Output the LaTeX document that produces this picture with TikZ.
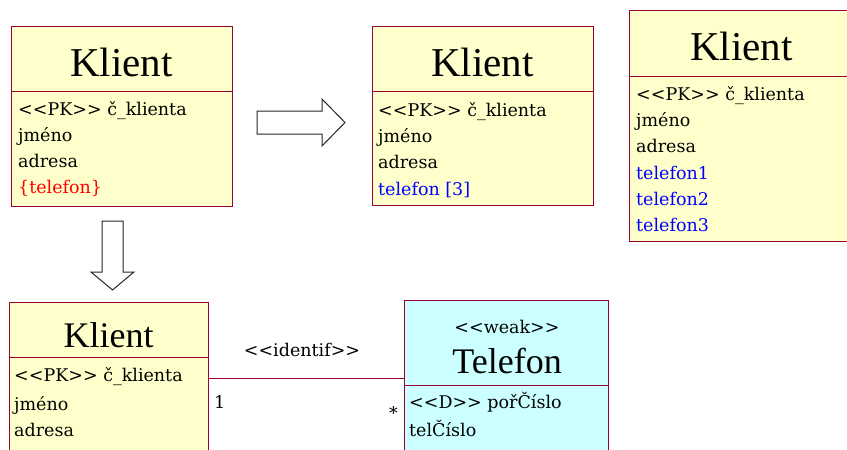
\documentclass[tikz,border=0pt]{standalone}
\usepackage{fontspec}
\newfontfamily\umlfont{Liberation Serif}
\newfontfamily\attrfont{DejaVu Serif}
\definecolor{boxred}{RGB}{153,0,51}
\definecolor{boxyel}{RGB}{255,255,204}
\definecolor{weakcyan}{RGB}{204,255,255}
\definecolor{attrblue}{RGB}{0,0,255}
\newcommand{\lguil}{<\kern0pt<}
\newcommand{\rguil}{>\kern0pt>}
\tikzset{
  cls/.style={draw=boxred, fill=boxyel, line width=1pt, anchor=north west, inner sep=0pt},
  wcls/.style={cls, fill=weakcyan},
  div/.style={draw=boxred, line width=1pt},
  ttl/.style={font=\umlfont\fontsize{41}{41}\selectfont, anchor=base, inner sep=0pt},
  sttl/.style={font=\umlfont\fontsize{36}{36}\selectfont, anchor=base, inner sep=0pt},
  attr/.style={font=\attrfont\fontsize{17.5}{17.5}\selectfont, anchor=base west, inner sep=0pt},
  assoc/.style={draw=boxred, line width=1pt},
  blockarr/.style={draw=black!85, fill=white, line width=1pt, line join=miter},
  }

\begin{document}
\begin{tikzpicture}[x=1pt,y=-1pt]
  \useasboundingbox (0,0) rectangle (847,450);
  \clip (0,0) rectangle (847,450);

  % class with multivalued attribute
  \node[cls, minimum width=221pt, minimum height=180pt] (k1) at (11,26) {};
  \draw[div] (k1.west |- 0,91) -- (k1.east |- 0,91);
  \node[ttl] (k1t) at (121.5,76) {Klient};
  \node[attr] (k1a) at (18,115.7) {\lguil PK\rguil{} č\_klienta};
  \node[attr] (k1b) at (18,141.7) {jméno};
  \node[attr] (k1c) at (18,167.7) {adresa};
  \node[attr,text=red] (k1d) at (18,193.3) {\{telefon\}};

  % class with array
  \node[cls, minimum width=221pt, minimum height=179pt] (k2) at (372,26) {};
  \draw[div] (k2.west |- 0,91.7) -- (k2.east |- 0,91.7);
  \node[ttl] (k2t) at (482.5,76.5) {Klient};
  \node[attr] (k2a) at (378,116.7) {\lguil PK\rguil{} č\_klienta};
  \node[attr] (k2b) at (378,142.7) {jméno};
  \node[attr] (k2c) at (378,168.3) {adresa};
  \node[attr,text=attrblue] (k2d) at (378,195) {telefon [3]};

  % class with three attributes
  \node[cls, minimum width=225pt, minimum height=231pt] (k3) at (629,10) {};
  \draw[div] (k3.west |- 0,76) -- (k3.east |- 0,76);
  \node[ttl] (k3t) at (741.5,60) {Klient};
  \node[attr] (k3a) at (636,100.7) {\lguil PK\rguil{} č\_klienta};
  \node[attr] (k3b) at (636,126.7) {jméno};
  \node[attr] (k3c) at (636,152.7) {adresa};
  \node[attr,text=attrblue] (k3d) at (636,179.3) {telefon1};
  \node[attr,text=attrblue] (k3e) at (636,205) {telefon2};
  \node[attr,text=attrblue] (k3f) at (636,231) {telefon3};

  % class and weak class
  \node[cls, minimum width=199pt, minimum height=200pt] (k4) at (9,302) {};
  \draw[div] (k4.west |- 0,357) -- (k4.east |- 0,357);
  \node[sttl] (k4t) at (108.5,347.3) {Klient};
  \node[attr] (k4a) at (14,381.7) {\lguil PK\rguil{} č\_klienta};
  \node[attr] (k4b) at (14,410) {jméno};
  \node[attr] (k4c) at (14,436.7) {adresa};

  \node[wcls, minimum width=204pt, minimum height=200pt] (tel) at (404,300) {};
  \draw[div] (tel.west |- 0,385) -- (tel.east |- 0,385);
  \node[attr, anchor=base] (telst) at (507,333) {\lguil weak\rguil};
  \node[sttl] (telt) at (507,373) {Telefon};
  \node[attr] (tela) at (409,408) {\lguil D\rguil{} pořČíslo};
  \node[attr] (telb) at (409,436.7) {telČíslo};

  % association
  \coordinate (cy) at (0,378);
  \draw[assoc] (k4.east |- cy) -- (tel.west |- cy);
  \node[attr, anchor=base] (idf) at (302,356.7) {\lguil identif\rguil};
  \node[attr] (m1) at (214,408) {1};
  \node[attr, anchor=base east] (m2) at (398,419) {*};

  % block arrows
  \draw[blockarr] (257,111) -- (322,111) -- (322,99) -- (345,122.5)
    -- (322,146) -- (322,134) -- (257,134) -- cycle;
  \draw[blockarr] (102,221) -- (123,221) -- (123,272) -- (134,272)
    -- (112.5,290) -- (91,272) -- (102,272) -- cycle;
\end{tikzpicture}
\end{document}
